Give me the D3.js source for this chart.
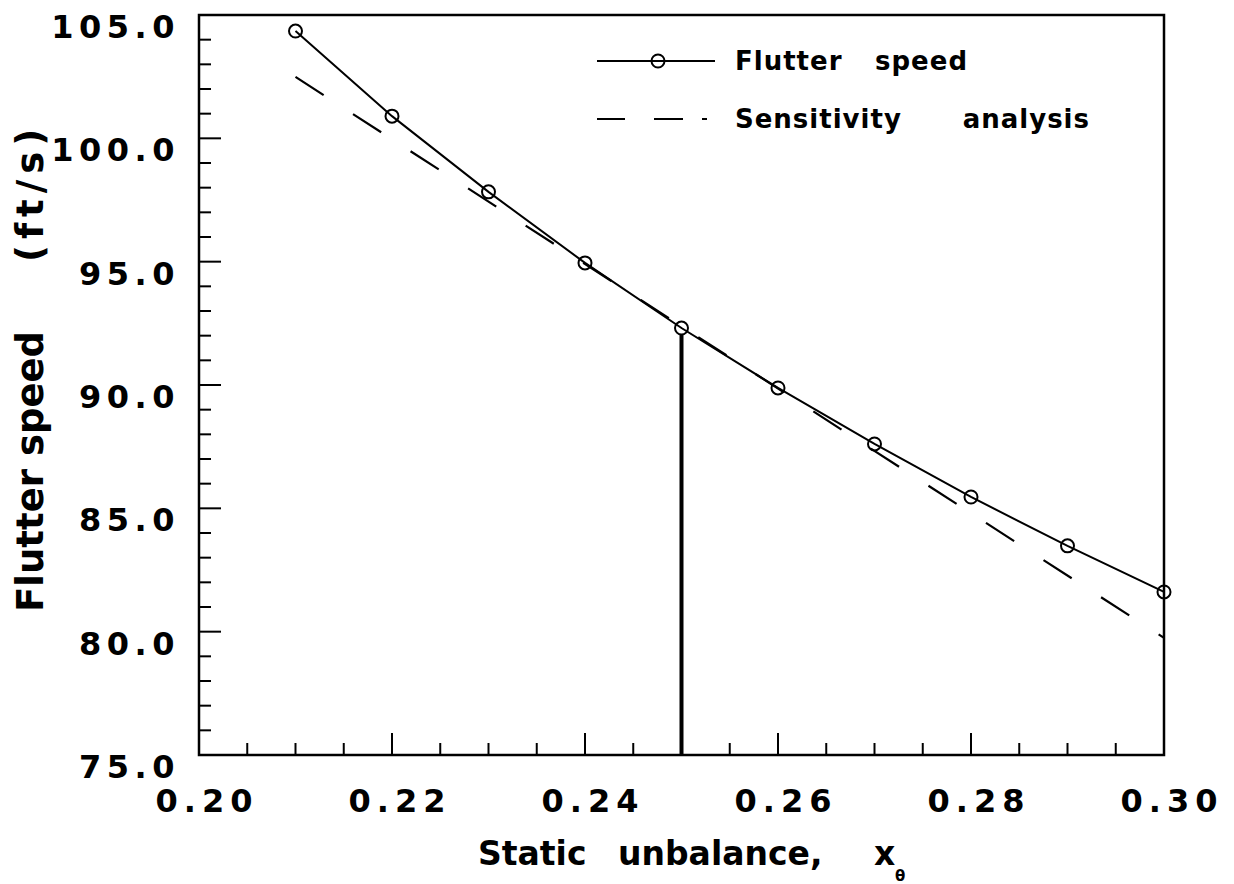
<!DOCTYPE html>
<html>
<head>
<meta charset="utf-8">
<script src="https://cdn.jsdelivr.net/npm/d3@7"></script>
<style>
  html, body { margin: 0; padding: 0; background: #fff; }
  text { font-family: "DejaVu Sans", "Liberation Sans", Arial, sans-serif; font-weight: bold; fill: #000; }
</style>
</head>
<body>
<svg id="chart" width="1234" height="884"></svg>
<script>
// ---- data ----
const staticUnbalance = [0.21, 0.22, 0.23, 0.24, 0.25, 0.26, 0.27, 0.28, 0.29, 0.30];
const flutterSpeed    = [104.35, 100.9, 97.83, 94.95, 92.31, 89.88, 87.61, 85.46, 83.48, 81.61];
const sensitivityX    = [0.21, 0.25, 0.30];
const sensitivityY    = [102.49, 92.38, 79.75];
const baselineX       = 0.25;
const xTickLabels     = ["0.20", "0.22", "0.24", "0.26", "0.28", "0.30"];
const yTickLabels     = ["75.0", "80.0", "85.0", "90.0", "95.0", "100.0", "105.0"];
const legendLabels    = [["Flutter", "speed"], ["Sensitivity", "analysis"]];

(function () {
// ---- layout ----
const svg = d3.select("#chart");
const mLeft = 199, mRight = 1164, mTop = 15, mBottom = 755;
const x = d3.scaleLinear().domain([0.20, 0.30]).range([mLeft, mRight]);
const y = d3.scaleLinear().domain([75, 105]).range([mBottom, mTop]);

// frame
svg.append("rect")
  .attr("x", mLeft).attr("y", mTop)
  .attr("width", mRight - mLeft).attr("height", mBottom - mTop)
  .attr("fill", "none").attr("stroke", "#000").attr("stroke-width", 2.5);

// x ticks (inward)
const xMinor = d3.range(0, 21).map(i => 0.20 + i * 0.005);
svg.append("g").selectAll("line").data(xMinor).join("line")
  .attr("x1", d => x(d)).attr("x2", d => x(d))
  .attr("y1", mBottom)
  .attr("y2", (d, i) => mBottom - (i % 4 === 0 ? 22 : 12))
  .attr("stroke", "#000").attr("stroke-width", 2);

// y ticks (inward)
const yMinor = d3.range(75, 106, 1);
svg.append("g").selectAll("line").data(yMinor).join("line")
  .attr("y1", d => y(d)).attr("y2", d => y(d))
  .attr("x1", mLeft)
  .attr("x2", d => mLeft + (d % 5 === 0 ? 22 : 12))
  .attr("stroke", "#000").attr("stroke-width", 2);

// x tick labels
svg.append("g").selectAll("text").data(xTickLabels).join("text")
  .attr("x", d => x(+d) + 8)
  .attr("y", 812)
  .attr("text-anchor", "middle")
  .style("font-size", "32px")
  .style("letter-spacing", "6px")
  .text(d => d);

// y tick labels
svg.append("g").selectAll("text").data(yTickLabels).join("text")
  .attr("x", 180)
  .attr("y", d => y(+d) + 23)
  .attr("text-anchor", "end")
  .style("font-size", "32px")
  .style("letter-spacing", "5.5px")
  .text(d => d);

// sensitivity (dashed)
const sensData = sensitivityX.map((d, i) => [d, sensitivityY[i]]);
svg.append("path")
  .datum(sensData)
  .attr("d", d3.line().x(d => x(d[0])).y(d => y(d[1])))
  .attr("fill", "none").attr("stroke", "#000").attr("stroke-width", 2.2)
  .attr("stroke-dasharray", "33.5,35");

// vertical reference line
svg.append("line")
  .attr("x1", x(baselineX)).attr("x2", x(baselineX))
  .attr("y1", y(75)).attr("y2", y(flutterSpeed[staticUnbalance.indexOf(baselineX)]) + 6)
  .attr("stroke", "#000").attr("stroke-width", 4);

// flutter speed line + circles
const flutData = staticUnbalance.map((d, i) => [d, flutterSpeed[i]]);
svg.append("path")
  .datum(flutData)
  .attr("d", d3.line().x(d => x(d[0])).y(d => y(d[1])))
  .attr("fill", "none").attr("stroke", "#000").attr("stroke-width", 2);
svg.append("g").selectAll("circle").data(flutData).join("circle")
  .attr("cx", d => x(d[0])).attr("cy", d => y(d[1])).attr("r", 6.5)
  .attr("fill", "none").attr("stroke", "#000").attr("stroke-width", 2);

// legend
const lg = svg.append("g");
lg.append("line").attr("x1", 597).attr("x2", 715).attr("y1", 61).attr("y2", 61)
  .attr("stroke", "#000").attr("stroke-width", 2);
lg.append("circle").attr("cx", 658).attr("cy", 61).attr("r", 6.5)
  .attr("fill", "none").attr("stroke", "#000").attr("stroke-width", 2);
lg.append("line").attr("x1", 597).attr("x2", 707).attr("y1", 119).attr("y2", 119)
  .attr("stroke", "#000").attr("stroke-width", 2)
  .attr("stroke-dasharray", "28,29,29,19,5,100");
const legendRight = [968, 1090];
legendLabels.forEach((words, i) => {
  lg.append("text")
    .attr("x", 735).attr("y", 70 + i * 58)
    .style("font-size", "26px").style("letter-spacing", "1px")
    .text(words[0]);
  lg.append("text")
    .attr("x", legendRight[i]).attr("y", 70 + i * 58)
    .attr("text-anchor", "end")
    .style("font-size", "26px").style("letter-spacing", "1px")
    .text(words[1]);
});

// x axis title
const xt = svg.append("text")
  .attr("y", 865)
  .style("font-size", "33px");
xt.append("tspan").attr("x", 478).text("Static");
xt.append("tspan").attr("x", 618).text("unbalance,");
xt.append("tspan").attr("x", 874).text("x");
svg.append("text")
  .attr("x", 895).attr("y", 881)
  .style("font-size", "15px")
  .text("θ");

// y axis title
const yt = svg.append("text")
  .attr("transform", "translate(43,612) rotate(-90)")
  .style("font-size", "37px");
yt.append("tspan").attr("x", 0).text("Flutter speed");
yt.append("tspan").attr("x", 350).style("letter-spacing", "6px").text("(ft/s)");
})();
</script>
</body>
</html>
